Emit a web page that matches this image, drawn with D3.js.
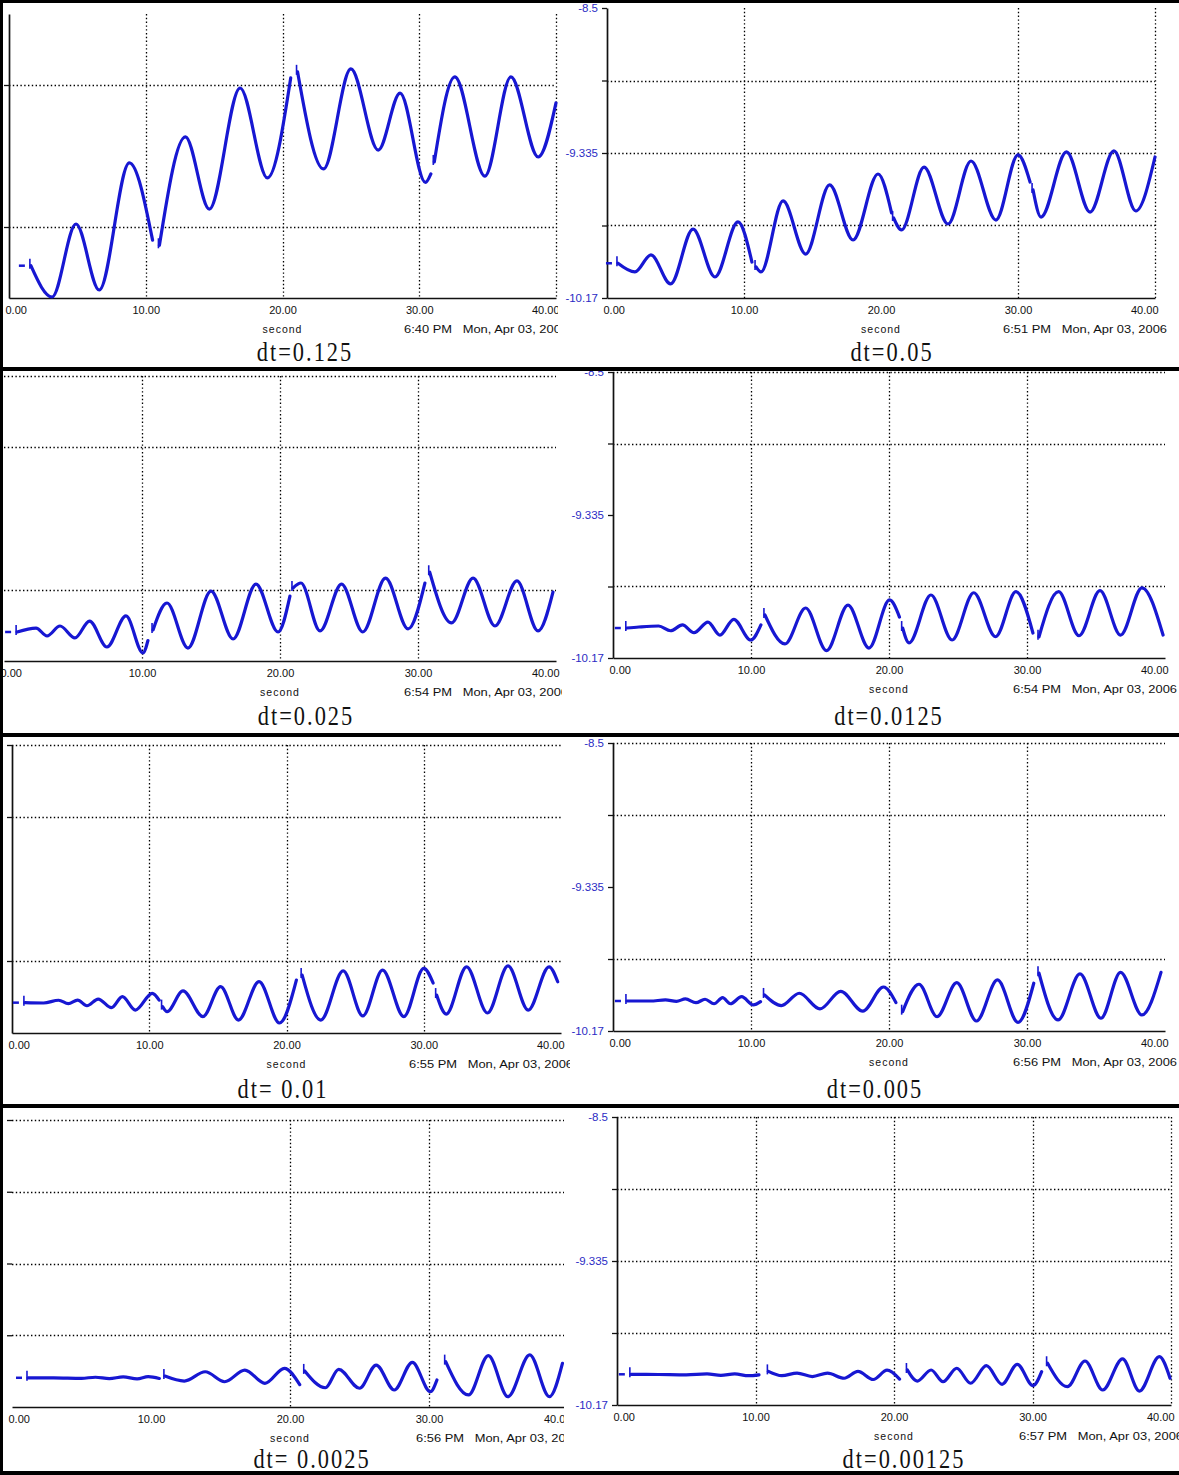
<!DOCTYPE html>
<html>
<head>
<meta charset="utf-8">
<script src="https://cdn.jsdelivr.net/npm/d3@7"></script>
<style>
  html, body { margin: 0; padding: 0; background: #fff; }
  svg { display: block; }
  .tick text, .lbl { font-family: "Liberation Sans", Arial, sans-serif; }
</style>
</head>
<body>
<svg id="chart" width="1179" height="1475"></svg>
<script>
// ---------- data ----------
const xTickValues = [0, 10, 20, 30, 40];
const xTickLabels = ["0.00", "10.00", "20.00", "30.00", "40.00"];
const yTickValues = [-8.5, -8.9175, -9.335, -9.7525, -10.17];
const yTickLabels = ["-8.5", "", "-9.335", "", "-10.17"];
const yDomain = [-10.17, -8.5];
const xDomain = [0, 40];
const xTitle = "second";

const captions = ["dt=0.125", "dt=0.05", "dt=0.025", "dt=0.0125",
                  "dt= 0.01", "dt=0.005", "dt= 0.0025", "dt=0.00125"];
const timestamps = ["6:40 PM   Mon, Apr 03, 2006", "6:51 PM   Mon, Apr 03, 2006",
                    "6:54 PM   Mon, Apr 03, 2006", "6:54 PM   Mon, Apr 03, 2006",
                    "6:55 PM   Mon, Apr 03, 2006", "6:56 PM   Mon, Apr 03, 2006",
                    "6:56 PM   Mon, Apr 03, 2006", "6:57 PM   Mon, Apr 03, 2006"];

// recorded traces: [second, value]; null marks a break between recording segments
const trace0125 = [
  [1.6,-9.98],[3.15,-10.164],[4.9,-9.735],[6.6,-10.123],[8.8,-9.376],[10.5,-9.83], null,
  [11.0,-9.86],[12.9,-9.223],[14.65,-9.647],[16.9,-8.935],[18.9,-9.464],[20.6,-8.876], null,
  [21.1,-8.84],[23.0,-9.411],[25.0,-8.823],[27.0,-9.30],[28.6,-8.965],[30.45,-9.49],[30.85,-9.44], null,
  [31.1,-9.37],[32.6,-8.87],[34.8,-9.453],[36.7,-8.87],[38.7,-9.341],[40.0,-9.023]
];
const trace005 = [
  [0.8,-9.97],[2.04,-10.02],[3.21,-9.922],[4.64,-10.089],[6.28,-9.773],[7.88,-10.049],[9.56,-9.732],[10.58,-9.963], null,
  [10.88,-9.991],[11.24,-10.02],[12.85,-9.611],[14.5,-9.917],[16.25,-9.519],[17.96,-9.836],[19.78,-9.456],[20.77,-9.68], null,
  [20.92,-9.709],[21.5,-9.778],[23.14,-9.416],[24.89,-9.744],[26.57,-9.381],[28.39,-9.721],[30.0,-9.346],[30.88,-9.502], null,
  [31.1,-9.548],[31.68,-9.704],[33.54,-9.329],[35.26,-9.675],[37.0,-9.323],[38.6,-9.669],[40.0,-9.358]
];
const trace0025 = [
  [0.95,-10.0],[2.32,-9.977],[3.12,-10.023],[4.06,-9.965],[5.14,-10.035],[6.2,-9.936],[7.46,-10.088],[8.84,-9.906],[10.07,-10.123],[10.43,-10.05], null,
  [10.8,-9.988],[11.81,-9.83],[13.33,-10.094],[15.0,-9.76],[16.6,-10.041],[18.26,-9.719],[19.86,-10.0],[20.72,-9.79], null,
  [20.94,-9.742],[21.52,-9.713],[22.9,-9.994],[24.46,-9.719],[26.0,-10.0],[27.65,-9.684],[29.28,-9.982],[30.5,-9.713], null,
  [30.85,-9.65],[32.43,-9.947],[33.99,-9.684],[35.58,-9.965],[37.17,-9.701],[38.7,-9.994],[39.78,-9.766]
];
const trace00125 = [
  [1.0,-9.995],[1.88,-9.989],[3.31,-9.983],[4.17,-10.011],[5.03,-9.977],[5.87,-10.022],[6.88,-9.96],[7.75,-10.036],[8.75,-9.944],[9.98,-10.065],[10.72,-9.977], null,
  [11.01,-9.919],[12.46,-10.088],[13.96,-9.878],[15.47,-10.127],[17.03,-9.861],[18.55,-10.112],[20.04,-9.831],[20.76,-9.931], null,
  [20.99,-9.995],[21.45,-10.082],[23.04,-9.802],[24.57,-10.065],[26.14,-9.789],[27.72,-10.046],[29.2,-9.783],[30.43,-10.024], null,
  [30.87,-10.046],[32.29,-9.783],[33.77,-10.04],[35.29,-9.777],[36.78,-10.036],[38.33,-9.76],[39.86,-10.036]
];
const trace001 = [
  [0.94,-9.994],[2.3,-9.996],[3.4,-9.98],[4.1,-10.0],[4.78,-9.979],[5.46,-10.012],[6.28,-9.973],[7.25,-10.023],[8.04,-9.959],[8.99,-10.037],[10.22,-9.94],[10.72,-9.979], null,
  [10.97,-10.017],[11.3,-10.046],[12.46,-9.926],[13.91,-10.075],[15.2,-9.901],[16.5,-10.095],[18.0,-9.872],[19.49,-10.112],[20.72,-9.863], null,
  [21.14,-9.834],[22.5,-10.095],[24.13,-9.81],[25.56,-10.071],[27.0,-9.805],[28.55,-10.075],[30.0,-9.795],[30.68,-9.88], null,
  [30.94,-9.95],[31.64,-10.06],[33.12,-9.786],[34.64,-10.054],[36.14,-9.781],[37.61,-10.037],[39.13,-9.786],[39.76,-9.873]
];
const trace0005 = [
  [1.01,-9.996],[2.7,-9.996],[3.8,-9.99],[4.6,-9.998],[5.25,-9.984],[6.01,-10.006],[6.67,-9.986],[7.32,-10.012],[7.94,-9.977],[8.51,-10.012],[9.32,-9.971],[10.17,-10.019],[10.69,-10.0], null,
  [10.98,-9.961],[12.2,-10.023],[13.5,-9.951],[15.0,-10.042],[16.5,-9.94],[18.1,-10.055],[19.6,-9.915],[20.5,-10.005], null,
  [20.99,-10.058],[22.17,-9.899],[23.48,-10.087],[24.91,-9.89],[26.34,-10.112],[27.86,-9.874],[29.35,-10.12],[30.49,-9.893], null,
  [30.87,-9.835],[32.25,-10.106],[33.84,-9.839],[35.36,-10.096],[36.78,-9.83],[38.33,-10.077],[39.71,-9.83]
];
const trace00025 = [
  [1.15,-10.0],[3.0,-10.0],[5.0,-10.003],[6.0,-9.997],[7.0,-10.005],[8.0,-9.995],[9.0,-10.006],[9.8,-9.993],[10.6,-10.004], null,
  [11.0,-9.99],[12.4,-10.019],[13.9,-9.965],[15.3,-10.023],[16.75,-9.955],[18.2,-10.032],[19.6,-9.945],[20.7,-10.04], null,
  [21.06,-9.96],[22.55,-10.058],[23.5,-9.951],[25.0,-10.061],[26.2,-9.926],[27.5,-10.071],[28.8,-9.91],[30.1,-10.081],[30.57,-10.013], null,
  [31.2,-9.906],[32.84,-10.1],[34.27,-9.871],[35.68,-10.11],[37.25,-9.867],[38.66,-10.11],[39.6,-9.916]
];
const trace000125 = [
  [1.0,-9.992],[3.0,-9.993],[5.0,-9.995],[6.5,-9.99],[7.5,-9.998],[8.5,-9.99],[9.5,-10.0],[10.25,-9.995], null,
  [10.93,-9.975],[11.9,-10.0],[13.0,-9.985],[14.1,-10.005],[15.2,-9.985],[16.4,-10.015],[17.4,-9.975],[18.5,-10.022],[19.5,-9.968],[20.4,-10.02], null,
  [20.97,-9.967],[21.68,-10.031],[22.68,-9.967],[23.54,-10.035],[24.53,-9.957],[25.53,-10.044],[26.67,-9.942],[27.8,-10.05],[28.9,-9.934],[30.04,-10.058],[30.66,-9.977], null,
  [31.09,-9.928],[32.52,-10.064],[33.79,-9.915],[35.07,-10.083],[36.5,-9.903],[37.72,-10.089],[39.16,-9.89],[39.93,-10.015]
];
const traces = [trace0125, trace005, trace0025, trace00125, trace001, trace0005, trace00025, trace000125];

// ---------- layout (pixel frame of each screen capture) ----------
const panels = [
  { x0: 9,   x1: 556,  top: 14,   bot: 298,  clipW: 558, axis: "line",   vGrid: [10,20,30,40], hGrid: [-8.9175,-9.7525],              capX: 305, capY: 361 },
  { x0: 607, x1: 1155, top: 8,    bot: 298,  clipW: 0,   axis: "labels", vGrid: [10,30,40],    hGrid: [-8.9175,-9.335,-9.7525],       capX: 892, capY: 361 },
  { x0: 4,   x1: 556,  top: 376,  bot: 661,  clipW: 562, axis: "none",   vGrid: [10,20,30],    hGrid: [-8.5,-8.9175,-9.7525],         capX: 306, capY: 725 },
  { x0: 613, x1: 1165, top: 372,  bot: 658,  clipW: 0,   axis: "labels", vGrid: [10,20,30],    hGrid: [-8.5,-8.9175,-9.7525],         capX: 889, capY: 725 },
  { x0: 12,  x1: 561,  top: 745,  bot: 1033, clipW: 570, axis: "line",   vGrid: [10,20,30],    hGrid: [-8.5,-8.9175,-9.7525],         capX: 283, capY: 1098 },
  { x0: 613, x1: 1165, top: 743,  bot: 1031, clipW: 0,   axis: "labels", vGrid: [10,20,30],    hGrid: [-8.5,-8.9175,-9.7525],         capX: 875, capY: 1098 },
  { x0: 12,  x1: 568,  top: 1120, bot: 1407, clipW: 564, axis: "ticks",  vGrid: [20,30],       hGrid: [-8.5,-8.9175,-9.335,-9.7525],  capX: 312, capY: 1468 },
  { x0: 617, x1: 1171, top: 1117, bot: 1405, clipW: 0,   axis: "labels", vGrid: [10,20,30,40], hGrid: [-8.5,-8.9175,-9.335,-9.7525],  capX: 904, capY: 1468 }
];

const traceColor = "#1717d2";
const labelBlue = "#2b2bc4";

const svg = d3.select("#chart");
svg.append("rect").attr("width", 1179).attr("height", 1475).attr("fill", "#fff");
const defs = svg.append("defs");

panels.forEach((p, i) => {
  const x = d3.scaleLinear().domain(xDomain).range([p.x0, p.x1]);
  const y = d3.scaleLinear().domain(yDomain).range([p.bot, p.top]);

  const g = svg.append("g");
  if (p.clipW) {
    defs.append("clipPath").attr("id", "clip" + i)
      .append("rect").attr("x", 0).attr("y", 0).attr("width", p.clipW).attr("height", 1475);
    g.attr("clip-path", `url(#clip${i})`);
  }

  // dotted grid
  g.append("g").selectAll("line").data(p.hGrid).join("line")
    .attr("x1", x(0)).attr("x2", x(40))
    .attr("y1", d => Math.round(y(d)) + 0.5).attr("y2", d => Math.round(y(d)) + 0.5)
    .attr("stroke", "#000").attr("stroke-width", 1.3).attr("stroke-dasharray", "1.4,2.4");
  g.append("g").selectAll("line").data(p.vGrid).join("line")
    .attr("x1", d => Math.round(x(d)) + 0.5).attr("x2", d => Math.round(x(d)) + 0.5)
    .attr("y1", y(-8.5)).attr("y2", y(-10.17))
    .attr("stroke", "#000").attr("stroke-width", 1.3).attr("stroke-dasharray", "1.4,2.4");

  // x axis
  const xAxis = d3.axisBottom(x).tickValues(xTickValues).tickSize(0).tickSizeOuter(0).tickPadding(8)
    .tickFormat((d, k) => xTickLabels[k]);
  const ax = g.append("g").attr("transform", `translate(0,${p.bot})`).call(xAxis);
  ax.select(".domain").attr("stroke", "#111").attr("stroke-width", 1.7);
  ax.selectAll(".tick text")
    .attr("font-size", 11).attr("fill", "#111")
    .attr("text-anchor", (d, k) => k === 0 ? "start" : (k === xTickValues.length - 1 ? "end" : "middle"))
    .attr("dx", (d, k) => k === 0 ? -4 : (k === xTickValues.length - 1 ? 3 : 0));

  // y axis: labelled on the right-hand captures, tick marks only on the left-hand ones
  if (p.axis !== "none") {
    const labelled = p.axis === "labels";
    const yAxis = d3.axisLeft(y)
      .tickValues(labelled ? yTickValues : p.hGrid)
      .tickSize(5).tickSizeOuter(0).tickPadding(4)
      .tickFormat((d, k) => labelled ? yTickLabels[k] : "");
    const ay = g.append("g").attr("transform", `translate(${p.x0},0)`).call(yAxis);
    ay.select(".domain").attr("stroke", "#111").attr("stroke-width", 1.7)
      .attr("display", p.axis === "ticks" ? "none" : null);
    ay.selectAll(".tick line").attr("stroke", "#111").attr("stroke-width", 1.3);
    ay.selectAll(".tick text").attr("font-size", 11.5).attr("fill", labelBlue);
  }

  // trace
  const data = traces[i];
  const line = d3.line()
    .defined(d => d !== null)
    .x(d => x(d[0])).y(d => y(d[1]))
    .curve(d3.curveMonotoneX);
  g.append("path").datum(data)
    .attr("d", line)
    .attr("fill", "none").attr("stroke", traceColor)
    .attr("stroke-width", 3.2).attr("stroke-linejoin", "round").attr("stroke-linecap", "round");

  // segment start markers
  const starts = data.filter((d, k) => d !== null && (k === 0 || data[k - 1] === null));
  g.append("g").selectAll("line").data(starts).join("line")
    .attr("x1", d => x(d[0]) - 1).attr("x2", d => x(d[0]) - 1)
    .attr("y1", d => y(d[1]) - 7).attr("y2", d => y(d[1]) + 3)
    .attr("stroke", traceColor).attr("stroke-width", 1.6);
  g.append("line")
    .attr("x1", x(starts[0][0]) - 12).attr("x2", x(starts[0][0]) - 6)
    .attr("y1", y(starts[0][1])).attr("y2", y(starts[0][1]))
    .attr("stroke", traceColor).attr("stroke-width", 2.5);

  // axis title and time stamp
  g.append("text").attr("class", "lbl")
    .attr("x", (p.x0 + p.x1) / 2).attr("y", p.bot + 35)
    .attr("text-anchor", "middle").attr("font-size", 10.5).attr("letter-spacing", 1)
    .attr("fill", "#111").text(xTitle);
  g.append("text").attr("class", "lbl")
    .attr("x", p.x1 + 12 - 164).attr("y", p.bot + 35)
    .attr("font-size", 10.5).attr("fill", "#111")
    .attr("textLength", 164).attr("lengthAdjust", "spacingAndGlyphs")
    .style("white-space", "pre")
    .text(timestamps[i]);

  // caption
  g.append("text")
    .attr("transform", `translate(${p.capX},${p.capY}) scale(0.8,1)`)
    .attr("text-anchor", "middle")
    .attr("font-family", "'Liberation Serif', 'Times New Roman', serif")
    .attr("font-size", 28).attr("letter-spacing", 2.5)
    .attr("fill", "#111")
    .style("white-space", "pre")
    .text(captions[i]);
});

// frame between the captures
const frame = svg.append("g").attr("fill", "#000");
[[0, 0, 1179, 3], [0, 367, 1179, 4], [0, 733, 1179, 4], [0, 1104, 1179, 4], [0, 1471, 1179, 4], [0, 0, 3, 1475]]
  .forEach(r => frame.append("rect").attr("x", r[0]).attr("y", r[1]).attr("width", r[2]).attr("height", r[3]));
</script>
</body>
</html>
